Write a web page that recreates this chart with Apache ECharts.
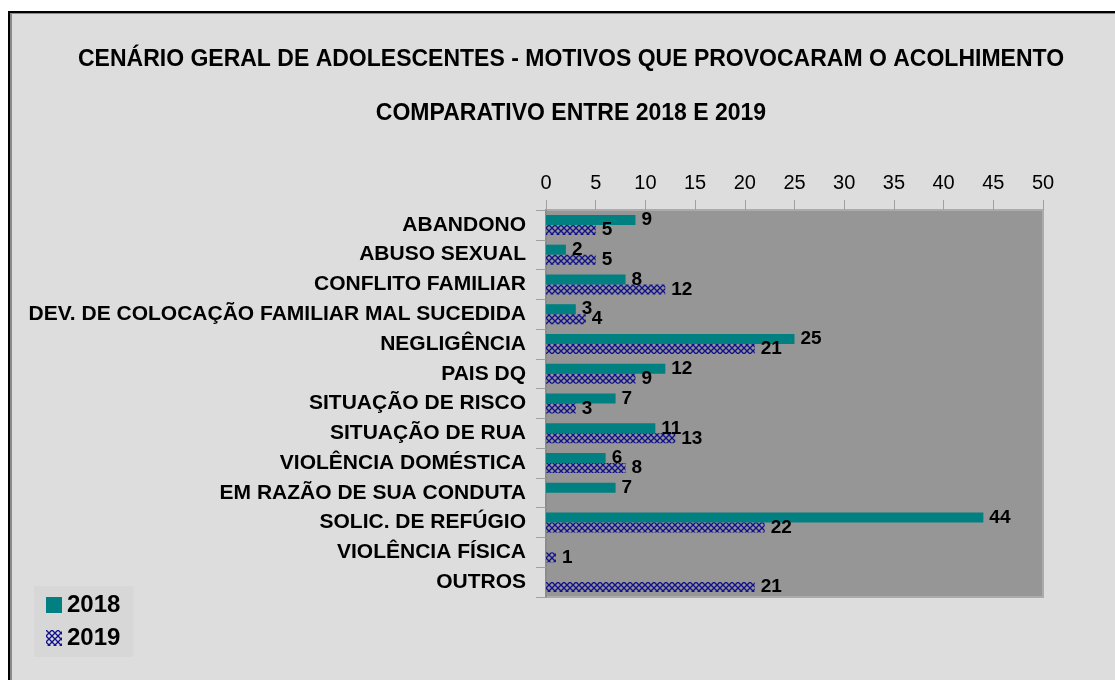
<!DOCTYPE html>
<html><head><meta charset="utf-8">
<script src="https://cdn.jsdelivr.net/npm/echarts@6/dist/echarts.min.js"></script>
<style>
html,body{margin:0;padding:0;background:#fff;}
#wrap{position:relative;width:1115px;height:680px;overflow:hidden;background:#fff;}
#frame{position:absolute;left:8px;top:11px;width:1200px;height:800px;border-left:2px solid #000;border-top:2px solid #000;}
#inner{position:absolute;left:0;top:0;right:0;bottom:0;border-left:2px solid #8a8a8a;border-top:1px solid #8a8a8a;background:#dddddd;}
#chart{position:absolute;left:0;top:0;width:1115px;height:680px;}
</style></head>
<body><div id="wrap"><div id="frame"><div id="inner"></div></div><div id="chart"></div></div>
<script>
var categories = ['ABANDONO','ABUSO SEXUAL','CONFLITO FAMILIAR','DEV. DE COLOCAÇÃO FAMILIAR MAL SUCEDIDA','NEGLIGÊNCIA','PAIS DQ','SITUAÇÃO DE RISCO','SITUAÇÃO DE RUA','VIOLÊNCIA DOMÉSTICA','EM RAZÃO DE SUA CONDUTA','SOLIC. DE REFÚGIO','VIOLÊNCIA FÍSICA','OUTROS'];
var values2018 = [9,2,8,3,25,12,7,11,6,7,44,null,null];
var values2019 = [5,5,12,4,21,9,3,13,8,null,22,1,21];
var seriesNames = ['2018','2019'];
var titleText = 'CENÁRIO GERAL DE ADOLESCENTES - MOTIVOS QUE PROVOCARAM O ACOLHIMENTO';
var subtitleText = 'COMPARATIVO ENTRE 2018 E 2019';

var pc = document.createElement('canvas');
pc.width = 6; pc.height = 6;
var g = pc.getContext('2d');
g.strokeStyle = '#10108c'; g.lineWidth = 1.3;
g.beginPath(); g.moveTo(0,0); g.lineTo(6,6); g.moveTo(6,0); g.lineTo(0,6); g.stroke();
var pattern = {image: pc, repeat: 'repeat'};

var FONT = '"Liberation Sans", Arial, sans-serif';
var chart = echarts.init(document.getElementById('chart'), null, {renderer:'canvas'});
var lbl = {show:true, position:'right', distance:6, color:'#000', fontWeight:'bold', fontSize:19, fontFamily:FONT};
chart.setOption({
  backgroundColor:'transparent',
  animation:false,
  title:[
    {text:titleText, left:566, textAlign:'center', top:43, textStyle:{fontFamily:FONT, fontWeight:'bold', fontSize:23, color:'#000'}},
    {text:subtitleText, left:566, textAlign:'center', top:97, textStyle:{fontFamily:FONT, fontWeight:'bold', fontSize:23, color:'#000'}}
  ],
  legend:{orient:'vertical', left:34, top:586, padding:[7,13,7,12], backgroundColor:'#d7d7d7', itemWidth:16, itemHeight:16, itemGap:9,
    textStyle:{fontFamily:FONT, fontWeight:'bold', fontSize:24, color:'#000'},
    data:[{name:'2018', icon:'rect'},{name:'2019', icon:'rect'}]},
  grid:{left:546, right:72, top:210, bottom:83, show:true, backgroundColor:'#969696', borderColor:'#ababab', borderWidth:2},
  xAxis:{type:'value', position:'top', min:0, max:50, interval:5,
    axisLine:{show:false}, axisTick:{show:true, length:10, lineStyle:{color:'#a0a0a0'}},
    splitLine:{show:false},
    axisLabel:{fontFamily:FONT, fontSize:20, color:'#000', margin:17}},
  yAxis:{type:'category', data:categories, inverse:true,
    axisLine:{show:true, lineStyle:{color:'#8c8c8c', width:2}},
    axisTick:{show:true, length:10, lineStyle:{color:'#a0a0a0'}},
    axisLabel:{fontFamily:FONT, fontSize:21, fontWeight:'bold', color:'#000', margin:20}},
  series:[
    {name:seriesNames[0], type:'bar', data:values2018, barWidth:10, barGap:'0%', itemStyle:{color:'#008080'}, label:lbl},
    {name:seriesNames[1], type:'bar', data:values2019, barWidth:10, barGap:'0%', itemStyle:{color:pattern}, label:lbl}
  ]
});
</script></body></html>
